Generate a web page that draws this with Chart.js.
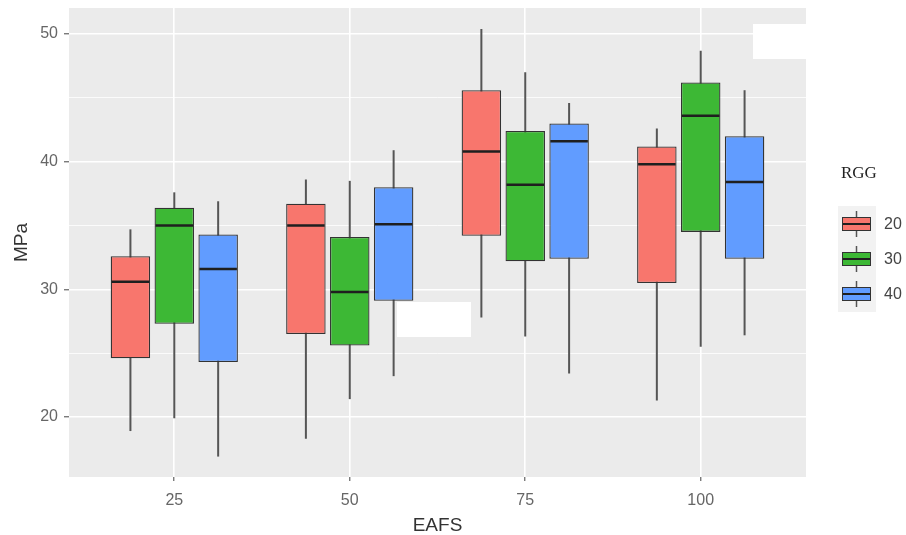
<!DOCTYPE html>
<html>
<head>
<meta charset="utf-8">
<script src="https://cdn.jsdelivr.net/npm/chart.js@4.4.0/dist/chart.umd.min.js"></script>
<style>
  html, body { margin: 0; padding: 0; background: #fff; }
  canvas { display: block; }
</style>
</head>
<body>
<canvas id="chartBoites" width="906" height="535"></canvas>
<script>
const eafs    = [25, 50, 75, 100];
const rgg     = ['20', '30', '40'];
const couleurs = ['#F8766D', '#3DB835', '#619CFF'];
const yTicks  = [20, 25, 30, 35, 40, 45, 50];

// une ligne par RGG (20, 30, 40), une colonne par EAFS (25, 50, 75, 100)
const mini    = [[18.9, 18.3, 27.8, 21.3], [19.9, 21.4, 26.3, 25.5], [16.9, 23.2, 23.4, 26.4]];
const q1      = [[24.6, 26.5, 34.2, 30.5], [27.3, 25.6, 32.2, 34.5], [24.3, 29.1, 32.4, 32.4]];
const mediane = [[30.6, 35.0, 40.8, 39.8], [35.0, 29.8, 38.2, 43.6], [31.6, 35.1, 41.6, 38.4]];
const q3      = [[32.6, 36.7, 45.6, 41.2], [36.4, 34.1, 42.4, 46.2], [34.3, 38.0, 43.0, 42.0]];
const maxi    = [[34.7, 38.6, 50.4, 42.6], [37.6, 38.5, 47.0, 48.7], [36.9, 40.9, 44.6, 45.6]];

Chart.defaults.font.family = "'Liberation Sans', Arial, sans-serif";

const fondPanneau = {
  id: 'fondPanneau',
  beforeDraw(chart) {
    const { ctx, chartArea: a } = chart;
    ctx.save();
    ctx.fillStyle = '#EBEBEB';
    ctx.fillRect(a.left, a.top, a.right - a.left, a.bottom - a.top);
    ctx.restore();
  }
};

const moustaches = {
  id: 'moustaches',
  beforeDatasetsDraw(chart) {
    const { ctx, scales: { y } } = chart;
    ctx.save();
    ctx.strokeStyle = '#555';
    ctx.lineWidth = 2;
    chart.data.datasets.forEach((ds, d) => {
      chart.getDatasetMeta(d).data.forEach((bar, i) => {
        ctx.beginPath();
        ctx.moveTo(bar.x, y.getPixelForValue(mini[d][i]));
        ctx.lineTo(bar.x, y.getPixelForValue(maxi[d][i]));
        ctx.stroke();
      });
    });
    ctx.restore();
  },
  afterDatasetsDraw(chart) {
    const { ctx, scales: { y } } = chart;
    ctx.save();
    ctx.strokeStyle = '#1f1f1f';
    ctx.lineWidth = 2.5;
    chart.data.datasets.forEach((ds, d) => {
      chart.getDatasetMeta(d).data.forEach((bar, i) => {
        const py = y.getPixelForValue(mediane[d][i]);
        ctx.beginPath();
        ctx.moveTo(bar.x - bar.width / 2 + 1, py);
        ctx.lineTo(bar.x + bar.width / 2 - 1, py);
        ctx.stroke();
      });
    });
    ctx.restore();
  }
};

// caches blancs presents sur l'image d'origine
const caches = {
  id: 'caches',
  afterDraw(chart) {
    const { ctx } = chart;
    ctx.save();
    ctx.fillStyle = '#fff';
    ctx.fillRect(397, 302, 74, 35);
    ctx.fillRect(753, 24, 55, 35);
    ctx.restore();
  }
};

const legendeGG = {
  id: 'legendeGG',
  afterDraw(chart) {
    const { ctx, chartArea: a } = chart;
    const x0 = a.right + 36;
    ctx.save();
    ctx.fillStyle = '#222';
    ctx.font = "17px 'Liberation Serif', 'Times New Roman', serif";
    ctx.textAlign = 'left';
    ctx.textBaseline = 'middle';
    ctx.fillText('RGG', x0 - 1, 174);

    ctx.fillStyle = '#F2F2F2';
    ctx.fillRect(x0 - 4, 206, 38, 106);
    rgg.forEach((r, i) => {
      const cy = 224 + i * 35;
      ctx.strokeStyle = '#555';
      ctx.lineWidth = 1.5;
      ctx.beginPath();
      ctx.moveTo(x0 + 14.5, cy - 13);
      ctx.lineTo(x0 + 14.5, cy + 13);
      ctx.stroke();
      ctx.fillStyle = couleurs[i];
      ctx.fillRect(x0, cy - 7, 29, 14);
      ctx.strokeStyle = '#333';
      ctx.lineWidth = 1;
      ctx.strokeRect(x0 + 0.5, cy - 6.5, 28, 13);
      ctx.strokeStyle = '#1f1f1f';
      ctx.lineWidth = 2;
      ctx.beginPath();
      ctx.moveTo(x0 + 1, cy);
      ctx.lineTo(x0 + 28, cy);
      ctx.stroke();
      ctx.fillStyle = '#444';
      ctx.font = "16px 'Liberation Sans', Arial, sans-serif";
      ctx.fillText(r, x0 + 42, cy + 1);
    });
    ctx.restore();
  }
};

new Chart(document.getElementById('chartBoites'), {
  type: 'bar',
  data: {
    datasets: rgg.map((r, d) => ({
      label: r,
      data: eafs.map((e, i) => ({ x: e, y: [q1[d][i], q3[d][i]] })),
      backgroundColor: couleurs[d],
      borderColor: '#333',
      borderWidth: 1.3,
      borderSkipped: false,
      categoryPercentage: 0.75,
      barPercentage: 0.9
    }))
  },
  options: {
    responsive: false,
    animation: false,
    layout: { padding: { top: 8, right: 100, left: 0, bottom: 0 } },
    plugins: {
      legend: { display: false },
      tooltip: { enabled: false }
    },
    scales: {
      x: {
        type: 'linear',
        min: 10,
        max: 115,
        offset: false,
        afterBuildTicks: s => { s.ticks = eafs.map(v => ({ value: v })); },
        afterFit: s => { s.height = 58; s.paddingLeft = 0; s.paddingRight = 0; },
        border: { display: false },
        grid: { offset: false, color: '#fff', lineWidth: 1.6, tickLength: 4, tickColor: '#444', tickWidth: 1 },
        ticks: { color: '#666', font: { size: 16 }, padding: 10, callback: v => String(v) },
        title: { display: true, text: 'EAFS', color: '#333', font: { size: 19, lineHeight: 1 }, padding: { top: 0, bottom: 0 } }
      },
      y: {
        min: 15.3,
        max: 52.04,
        afterBuildTicks: s => { s.ticks = yTicks.map(v => ({ value: v })); },
        afterFit: s => { s.width = 69; s.paddingTop = 0; s.paddingBottom = 0; },
        border: { display: false },
        grid: {
          color: '#fff',
          lineWidth: c => (c.tick && c.tick.value % 10 === 0 ? 1.6 : 0.8),
          tickLength: 5,
          tickColor: c => (c.tick && c.tick.value % 10 === 0 ? '#444' : 'rgba(0,0,0,0)'),
          tickWidth: 1
        },
        ticks: { color: '#666', font: { size: 16 }, padding: 6, callback: v => (v % 10 === 0 ? String(v) : '') },
        title: { display: true, text: 'MPa', color: '#333', font: { size: 19, lineHeight: 1 }, padding: { top: 12, bottom: 0 } }
      }
    }
  },
  plugins: [fondPanneau, moustaches, caches, legendeGG]
});
</script>
</body>
</html>
